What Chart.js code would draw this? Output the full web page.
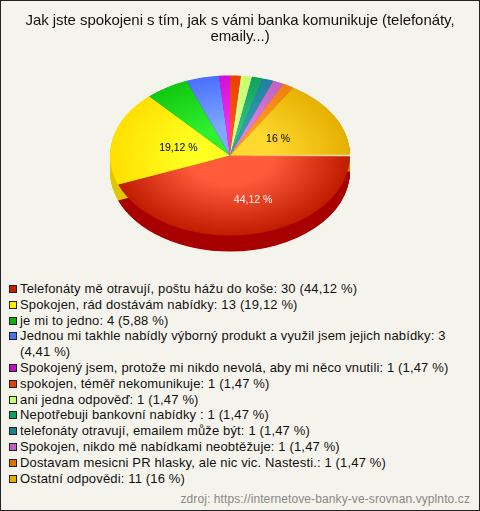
<!DOCTYPE html>
<html>
<head>
<meta charset="utf-8">
<script src="https://cdn.jsdelivr.net/npm/chart.js@4"></script>
<style>
    html, body { margin: 0; padding: 0; background: #f5f4ec; }
    #frame { position: relative; width: 480px; height: 511px; box-sizing: border-box; border: 1px solid #222; overflow: hidden; font-family: "Liberation Sans", Arial, sans-serif; }
    #chart { position: absolute; left: -1px; top: -1px; }
    #title { position: absolute; left: 19px; top: 11px; width: 440px; text-align: center; font-size: 15px; line-height: 16px; color: #111; letter-spacing: -0.05px; }
    #legend { position: absolute; left: 8px; top: 280px; width: 460px; font-size: 13px; line-height: 15.8px; color: #111; letter-spacing: 0.15px; }
    .row { position: relative; padding-left: 11px; }
    .box { position: absolute; left: 0; top: 4px; width: 6px; height: 6px; border: 1px solid #222; }
    #source { position: absolute; right: 9px; top: 491px; font-size: 12px; color: #888; letter-spacing: 0.1px; }
</style>
</head>
<body>
<div id="frame">
    <canvas id="chart" width="480" height="280"></canvas>
    <div id="title"></div>
    <div id="legend"></div>
    <div id="source">zdroj: https://internetove-banky-ve-srovnan.vyplnto.cz</div>
</div>
<script>
const titleText = 'Jak jste spokojeni s tím, jak s vámi banka komunikuje (telefonáty, emaily...)';
const categories = [
    'Telefonáty mě otravují, poštu hážu do koše',
    'Spokojen, rád dostávám nabídky',
    'je mi to jedno',
    'Jednou mi takhle nabídly výborný produkt a využil jsem jejich nabídky',
    'Spokojený jsem, protože mi nikdo nevolá, aby mi něco vnutili',
    'spokojen, téměř nekomunikuje',
    'ani jedna odpověď',
    'Nepotřebuji bankovní nabídky ',
    'telefonáty otravují, emailem může být',
    'Spokojen, nikdo mě nabídkami neobtěžuje',
    'Dostavam mesicni PR hlasky, ale nic vic. Nastesti.',
    'Ostatní odpovědi'
];
const values = [30, 13, 4, 3, 1, 1, 1, 1, 1, 1, 1, 11];
const percents = ['44,12 %', '19,12 %', '5,88 %', '4,41 %', '1,47 %', '1,47 %', '1,47 %', '1,47 %', '1,47 %', '1,47 %', '1,47 %', '16 %'];
const shownLabels = ['44,12 %', '19,12 %', '', '', '', '', '', '', '', '', '', '16 %'];
const labelColors = ['#fff', '#000', '', '', '', '', '', '', '', '', '', '#000'];
const swatchColors = ['#c02000', '#ffee00', '#10b010', '#4a70f0', '#c010c8', '#e04010', '#c8ff70', '#10a060', '#208090', '#c060c0', '#e07000', '#e5b000'];
const innerColors = ['#ff5c3c', '#ffff20', '#30f030', '#80a8ff', '#f030f0', '#ff5020', '#d8ff90', '#30c080', '#30a0b0', '#e080e0', '#ff9a20', '#ffd830'];
const outerColors = ['#bf1c00', '#ffe000', '#10c810', '#4a70ff', '#d010d8', '#e84000', '#c8ff70', '#10a060', '#2080a0', '#c060c0', '#f08010', '#e5b000'];
const depthColors = ['#a80000', '#e0c800', '#0a9a0a', '#3050c0', '#a010a8', '#b03000', '#a0d050', '#0a8050', '#186880', '#a050a0', '#c06000', '#c09000'];

const squash = 0.667;
const depth = 16;

function sliceColor(c) {
    const area = c.chart.chartArea;
    if (!area) return outerColors[c.dataIndex];
    const cx = (area.left + area.right) / 2;
    const cy = (area.top + area.bottom) / 2;
    const g = c.chart.ctx.createRadialGradient(cx, cy, 0, cx, cy, 120);
    g.addColorStop(0, innerColors[c.dataIndex]);
    g.addColorStop(0.35, innerColors[c.dataIndex]);
    g.addColorStop(1, outerColors[c.dataIndex]);
    return g;
}

// the library only draws round pies, so squash it and put a rim under it
const tiltedPie = {
    id: 'tiltedPie',
    beforeDatasetsDraw(chart) {
        const ctx = chart.ctx;
        const arcs = chart.getDatasetMeta(0).data;
        arcs.forEach((arc, i) => {
            ctx.fillStyle = depthColors[i];
            for (let d = depth; d > 0; d -= 0.5) {
                ctx.beginPath();
                ctx.moveTo(arc.x, arc.y + d);
                ctx.ellipse(arc.x, arc.y + d, arc.outerRadius, arc.outerRadius * squash, 0, arc.startAngle, arc.endAngle);
                ctx.closePath();
                ctx.fill();
            }
        });
        const cy = arcs[0].y;
        ctx.save();
        ctx.translate(0, cy);
        ctx.scale(1, squash);
        ctx.translate(0, -cy);
    },
    afterDatasetsDraw(chart) {
        const ctx = chart.ctx;
        ctx.restore();
        const arcs = chart.getDatasetMeta(0).data;

        // pale seam where the first and last slices meet
        const first = arcs[0];
        const seam = ctx.createLinearGradient(first.x, 0, first.x + first.outerRadius, 0);
        seam.addColorStop(0, 'rgba(255,255,255,0)');
        seam.addColorStop(1, 'rgba(255,240,220,0.9)');
        ctx.strokeStyle = seam;
        ctx.lineWidth = 1.5;
        ctx.beginPath();
        ctx.moveTo(first.x, first.y);
        ctx.lineTo(first.x + first.outerRadius, first.y);
        ctx.stroke();

        ctx.font = '10.5px "Liberation Sans", Arial, sans-serif';
        ctx.textAlign = 'center';
        ctx.textBaseline = 'middle';
        arcs.forEach((arc, i) => {
            if (!shownLabels[i]) return;
            const mid = (arc.startAngle + arc.endAngle) / 2;
            const r = i === 0 ? 66 : (i === 1 ? 53 : 55);
            const shift = i === 0 ? 11 : 0;
            ctx.fillStyle = labelColors[i];
            ctx.fillText(shownLabels[i], arc.x + Math.cos(mid) * r + shift, arc.y + 1 + Math.sin(mid) * r * squash);
        });
    }
};

new Chart(document.getElementById('chart').getContext('2d'), {
    type: 'pie',
    data: {
        labels: categories,
        datasets: [{
            data: values,
            backgroundColor: sliceColor,
            borderWidth: 0,
            radius: 120,
            clip: false
        }]
    },
    options: {
        responsive: false,
        animation: false,
        rotation: 90,
        layout: { padding: { left: 100, right: 120, top: 36, bottom: 5 } },
        plugins: {
            legend: { display: false },
            tooltip: { enabled: false },
            title: { display: false }
        }
    },
    plugins: [tiltedPie]
});

document.getElementById('title').textContent = titleText;

const legend = document.getElementById('legend');
categories.forEach((name, i) => {
    const row = document.createElement('div');
    row.className = 'row';
    const box = document.createElement('span');
    box.className = 'box';
    box.style.background = swatchColors[i];
    row.appendChild(box);
    row.appendChild(document.createTextNode(name + ': ' + values[i] + ' (' + percents[i] + ')'));
    legend.appendChild(row);
});
</script>
</body>
</html>
